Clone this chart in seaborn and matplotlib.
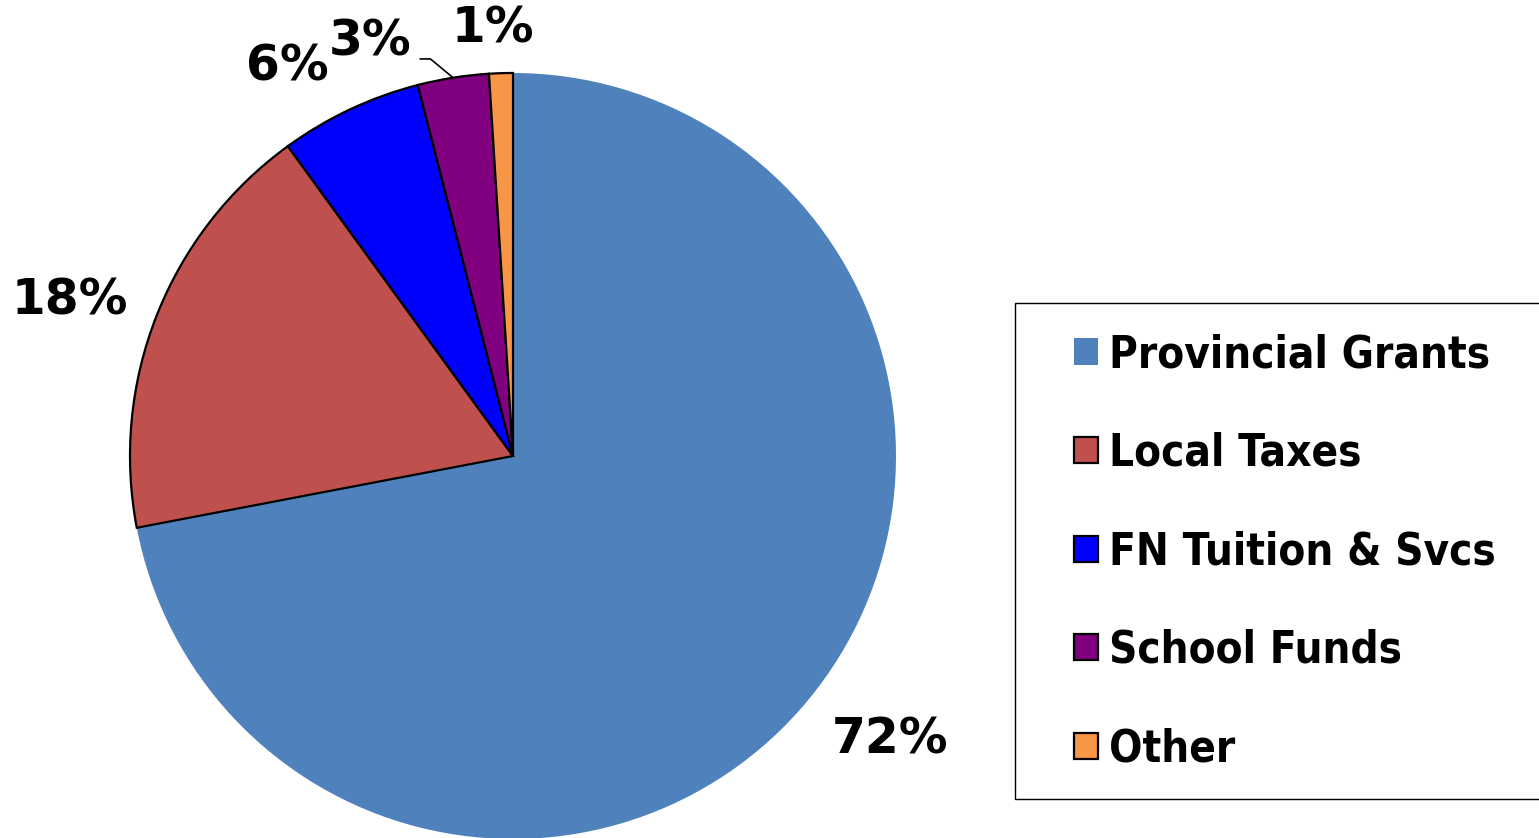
import numpy as np
import seaborn as sns
from matplotlib import pyplot as plt
from matplotlib.patches import Patch, Rectangle

sns.set_theme(style='white')
plt.rcParams['font.family'] = ['DejaVu Sans']

sources = ['Provincial Grants', 'Local Taxes', 'FN Tuition & Svcs', 'School Funds', 'Other']
shares = [72, 18, 6, 3, 1]
colors = ['#4F81BD', '#C0504D', '#0000FF', '#800080', '#F79646']

# label placement: radius and angle nudge (deg) per slice
label_r = [1.232, 1.226, 1.175, 1.144, 1.118]
label_nudge = [2.6, 2.2, 4.9, 10.0, 0.9]

W, H = 1539, 838
fig = plt.figure(figsize=(W / 100, H / 100), dpi=100)
ax = fig.add_axes([0, 0, 1, 1])

wedges, _ = ax.pie(shares, colors=colors, startangle=90, counterclock=False,
                   wedgeprops=dict(edgecolor='black', linewidth=1.6))
wedges[0].set_edgecolor('none')

R = 383
cx, cy = 513, H - 456
ax.set_xlim(-cx / R, (W - cx) / R)
ax.set_ylim(-cy / R, (H - cy) / R)
ax.set_aspect('equal')
ax.axis('off')

for i, w in enumerate(wedges):
    mid = (w.theta1 + w.theta2) / 2
    ang = np.deg2rad(mid + label_nudge[i])
    tx, ty = label_r[i] * np.cos(ang), label_r[i] * np.sin(ang)
    ax.text(tx, ty, f'{shares[i]}%', ha='center', va='center',
            fontsize=35, fontweight='bold', color='black')
    if sources[i] == 'School Funds':
        rm = np.deg2rad(mid)
        xs = [np.cos(rm), tx + 0.157, tx + 0.13]
        ys = [np.sin(rm), ty - 0.045, ty - 0.045]
        ax.plot(xs, ys, color='black', lw=1.2)

# legend box, runs off the right edge like the original
fig.patches.append(Rectangle((1015 / W, 1 - 799 / H), 540 / W, 496 / H,
                             transform=fig.transFigure, facecolor='white',
                             edgecolor='black', linewidth=1.0, zorder=1))

handles = []
for s, c in zip(sources, colors):
    ec = 'none' if s == 'Provincial Grants' else 'black'
    handles.append(Patch(facecolor=c, edgecolor=ec, linewidth=1.6, label=s))

leg = fig.legend(handles=handles, loc='upper left',
                 bbox_to_anchor=(1074 / W, 1 - 333 / H),
                 prop=dict(weight='bold', size=31.5, stretch='condensed'), labelcolor='black',
                 frameon=False, borderaxespad=0, borderpad=0,
                 handlelength=0.54, handleheight=0.54,
                 handletextpad=0.25, labelspacing=1.27)
leg.set_zorder(2)

fig.savefig('out.png', dpi=100)
